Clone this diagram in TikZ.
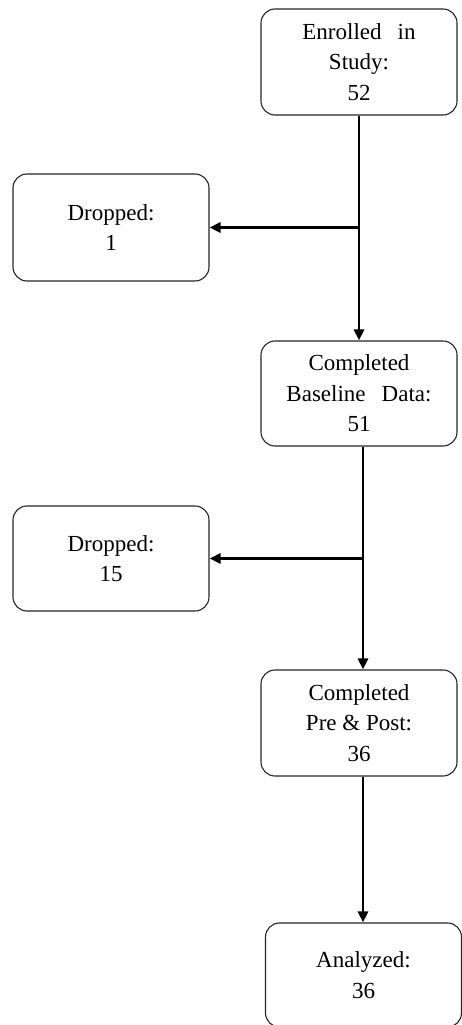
\documentclass[tikz,border=0pt]{standalone}
\usepackage{fontspec}
\setmainfont{Liberation Serif}
\usetikzlibrary{arrows.meta}
\tikzset{
  stagebox/.style={draw=black!85, line width=1.1pt, rounded corners=14pt, fill=white,
    minimum width=196pt, inner sep=2pt, align=center,
    font=\fontsize{23}{30.5}\selectfont},
  flowarrow/.style={line width=2.9pt, -{Triangle[length=11pt,width=10pt]}}
}
\begin{document}
\begin{tikzpicture}[x=1pt,y=-1pt]
\useasboundingbox[fill=white] (0,0) rectangle (462,1025);
\node[stagebox, minimum height=106pt] (enr) at (359,62) {Enrolled\hspace{0.45em} in\\Study:\\52};
\node[stagebox, minimum height=107pt] (dr1) at (111,227.5) {Dropped:\\1};
\node[stagebox, minimum height=105pt] (bas) at (359,393.5) {Completed\\Baseline\hspace{0.45em} Data:\\51};
\node[stagebox, minimum height=105pt] (dr2) at (111,558.5) {Dropped:\\15};
\node[stagebox, minimum height=106pt] (pre) at (359,723) {Completed\\Pre \& Post:\\36};
\node[stagebox, minimum height=104pt] (ana) at (363.5,975) {Analyzed:\\36};
\coordinate (b1) at (enr.south |- dr1.east);
\coordinate (s2) at ([xshift=4pt]bas.south);
\coordinate (b2) at (s2 |- dr2.east);
\draw[flowarrow] (enr.south) -- (bas.north);
\draw[flowarrow] (b1) -- (dr1.east);
\draw[flowarrow] (s2) -- (s2 |- pre.north);
\draw[flowarrow] (b2) -- (dr2.east);
\draw[flowarrow] ([xshift=4pt]pre.south) -- ([xshift=4pt]pre.south |- ana.north);
\end{tikzpicture}
\end{document}
